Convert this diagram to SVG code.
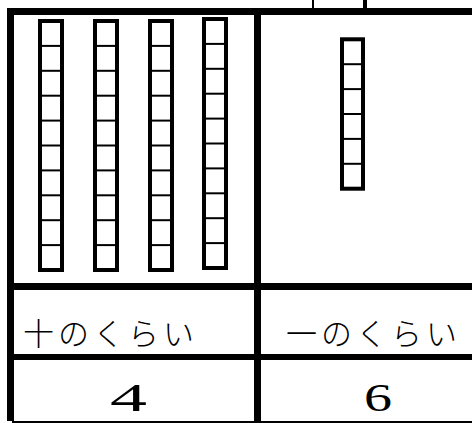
<svg xmlns="http://www.w3.org/2000/svg" xmlns:xlink="http://www.w3.org/1999/xlink" width="472" height="423" viewBox="0 0 472 423">
<style>
.bar{fill:#000}
.rod{fill:#fff;stroke:#000;stroke-width:4}
.div{stroke:#000;stroke-width:2}
.jp{font-family:"Noto Sans CJK JP","Noto Sans CJK SC",sans-serif;font-size:31px;font-weight:300;letter-spacing:4px;fill:#000}
.num{font-family:"Liberation Serif",serif;font-size:40px;fill:#000}
</style>
<defs>
<g id="ten">
<rect class="rod" x="0" y="0" width="22" height="249"/>
<g class="div">
<line x1="0" y1="24.9" x2="22" y2="24.9"/>
<line x1="0" y1="49.8" x2="22" y2="49.8"/>
<line x1="0" y1="74.7" x2="22" y2="74.7"/>
<line x1="0" y1="99.6" x2="22" y2="99.6"/>
<line x1="0" y1="124.5" x2="22" y2="124.5"/>
<line x1="0" y1="149.4" x2="22" y2="149.4"/>
<line x1="0" y1="174.3" x2="22" y2="174.3"/>
<line x1="0" y1="199.2" x2="22" y2="199.2"/>
<line x1="0" y1="224.1" x2="22" y2="224.1"/>
</g>
</g>
</defs>
<rect width="472" height="423" fill="#fff"/>
<g id="grid">
<rect class="bar" x="7" y="8" width="465" height="7"/>
<rect class="bar" x="7" y="8" width="7" height="413"/>
<rect class="bar" x="254" y="8" width="7" height="413"/>
<rect class="bar" x="7" y="283" width="465" height="7"/>
<rect class="bar" x="7" y="354" width="465" height="6"/>
<rect class="bar" x="12" y="421" width="460" height="2"/>
<rect class="bar" x="312" y="0" width="2" height="8"/>
<rect class="bar" x="363" y="0" width="4" height="8"/>
</g>
<g id="tens">
<use xlink:href="#ten" x="40" y="21"/>
<use xlink:href="#ten" x="95" y="21"/>
<use xlink:href="#ten" x="150" y="21"/>
<use xlink:href="#ten" x="204" y="19"/>
</g>
<g id="ones">
<rect class="rod" x="342" y="39.3" width="21" height="149.4"/>
<g class="div">
<line x1="342" y1="64.2" x2="363" y2="64.2"/>
<line x1="342" y1="89.1" x2="363" y2="89.1"/>
<line x1="342" y1="114" x2="363" y2="114"/>
<line x1="342" y1="138.9" x2="363" y2="138.9"/>
<line x1="342" y1="163.8" x2="363" y2="163.8"/>
</g>
</g>
<g id="labels">
<text class="jp" x="23" y="345">十のくらい</text>
<text class="jp" x="286" y="345">一のくらい</text>
<text class="num" x="110" y="411" textLength="37" lengthAdjust="spacingAndGlyphs">4</text>
<text class="num" x="364" y="411" textLength="28" lengthAdjust="spacingAndGlyphs">6</text>
</g>
</svg>
